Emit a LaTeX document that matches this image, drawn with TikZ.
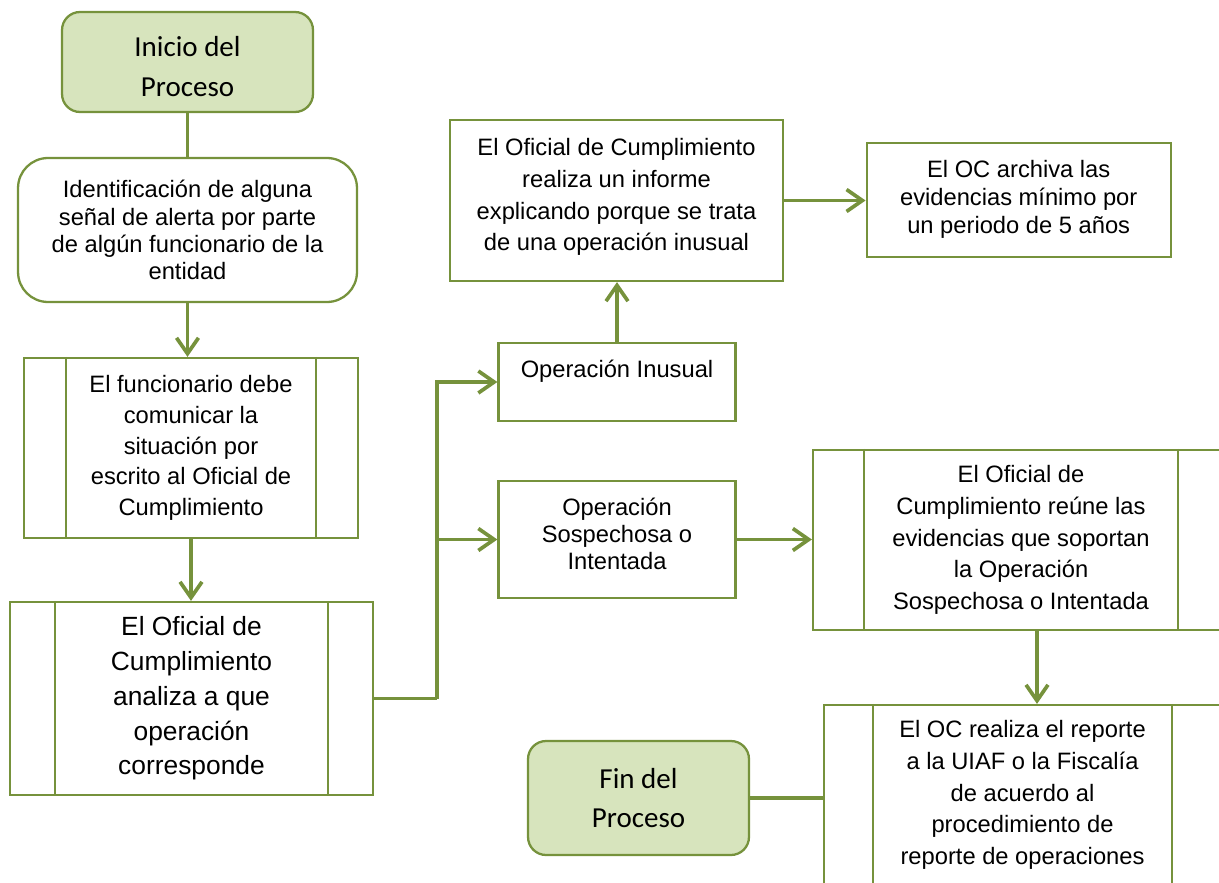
\documentclass[tikz,border=0pt]{standalone}
\usepackage{fontspec}
\setmainfont{Liberation Sans}
\newfontfamily\calibri{Carlito}
\usetikzlibrary{positioning, arrows.meta}
\definecolor{ocgreen}{HTML}{76923C}
\definecolor{ocfill}{HTML}{D7E4BD}

\begin{document}
\begin{tikzpicture}[
  x=0.02cm, y=-0.02cm,
  box/.style={rectangle, draw=ocgreen, line width=1.3pt, fill=white, align=center, inner sep=0pt},
  terminal/.style={box, fill=ocfill, rounded corners=0.36cm, font=\calibri\fontsize{16.5}{22.7}\selectfont},
  soft/.style={box, rounded corners=0.6cm},
  txt/.style={font=\fontsize{13.5}{#1}\selectfont},
  flow/.style={draw=ocgreen, line width=2.1pt, -{Straight Barb[length=9pt, width=12.5pt]}},
  link/.style={draw=ocgreen, line width=2.1pt},
  bar/.style={draw=ocgreen, line width=1.3pt}
]
\useasboundingbox (0,0) rectangle (1219,882);
\clip (0,0) rectangle (1219,882);

% Left column
\node[terminal, minimum width=5.02cm, minimum height=2cm] (inicio) at (187.5,62) {\rule{0pt}{17pt}Inicio del\\Proceso};
\node[soft, txt=15.5, minimum width=6.78cm, minimum height=2.88cm] (alerta) at (187.5,230) {Identificación de alguna\\señal de alerta por parte\\de algún funcionario de la\\entidad};
\node[box, txt=17.5, minimum width=6.68cm, minimum height=3.6cm] (comunica) at (191,448) {El funcionario debe\\comunicar la\\situación por\\escrito al Oficial de\\Cumplimiento};
\node[box, font=\fontsize{15}{19.8}\selectfont, minimum width=7.26cm, minimum height=3.86cm] (analiza) at (191.5,698.5) {El Oficial de\\Cumplimiento\\analiza a que\\operación\\corresponde};

% Middle column
\node[box, txt=15.6, minimum width=4.74cm, minimum height=1.56cm, text depth=15pt] (inusual) at (617,382) {Operación Inusual};
\node[box, txt=15.6, minimum width=4.74cm, minimum height=2.34cm, text depth=6.5pt] (sospecha) at (617,539.5) {Operación\\Sospechosa o\\Intentada};
\node[box, txt=18, minimum width=6.66cm, minimum height=3.22cm, text depth=6.5pt] (informe) at (616.5,200.5) {El Oficial de Cumplimiento\\realiza un informe\\explicando porque se trata\\de una operación inusual};
\node[terminal, minimum width=4.42cm, minimum height=2.28cm] (fin) at (638.5,798) {Fin del\\Proceso};

% Right column
\node[box, txt=16, minimum width=6.08cm, minimum height=2.28cm] (archiva) at (1018.7,199.7) {El OC archiva las\\evidencias mínimo por\\un periodo de 5 años};
\node[box, txt=18, minimum width=8.32cm, minimum height=3.6cm] (reune) at (1021,540) {El Oficial de\\Cumplimiento reúne las\\evidencias que soportan\\la Operación\\Sospechosa o Intentada};
\node[box, txt=18, minimum width=7.94cm, minimum height=3.6cm] (reporte) at (1022.5,795) {El OC realiza el reporte\\a la UIAF o la Fiscalía\\de acuerdo al\\procedimiento de\\reporte de operaciones};

% Side bars of the process boxes
\foreach \n/\d in {comunica/0.86, analiza/0.92, reune/1.04, reporte/1.0} {
  \draw[bar] ([xshift=\d cm]\n.north west) -- ([xshift=\d cm]\n.south west);
  \draw[bar] ([xshift=-\d cm]\n.north east) -- ([xshift=-\d cm]\n.south east);
}

% Connectors
\draw[link] (inicio.south) -- (inicio.south |- alerta.north);
\draw[flow] (alerta.south) -- (alerta.south |- comunica.north);
\draw[flow] (comunica.south) -- (comunica.south |- analiza.north);
\draw[link] (analiza.east) -- ++(63,0) coordinate (split);
\draw[flow] (split) |- (inusual.west);
\draw[flow] (split |- sospecha.west) -- (sospecha.west);
\draw[flow] (inusual.north) -- (inusual.north |- informe.south);
\draw[flow] (informe.east) -- (informe.east -| archiva.west);
\draw[flow] (sospecha.east) -- (sospecha.east -| reune.west);
\draw[flow] ([xshift=0.32cm]reune.south) -- ([xshift=0.32cm]reune.south |- reporte.north);
\draw[link] (fin.east) -- (fin.east -| reporte.west);

\end{tikzpicture}
\end{document}
